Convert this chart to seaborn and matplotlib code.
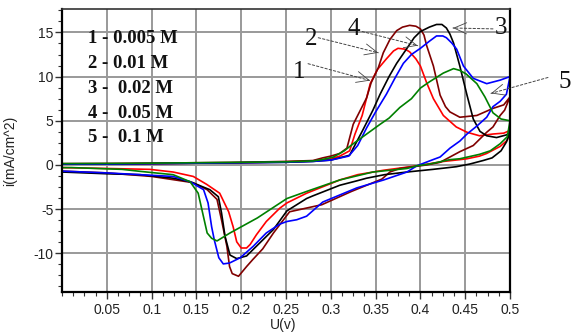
import matplotlib
matplotlib.use("Agg")
import matplotlib.pyplot as plt
import pandas as pd
import seaborn as sns
from matplotlib.ticker import MultipleLocator

# ---------------- data ----------------
# curve 1 : 0.005 M (red)
c1_fwd_U = [0, 0.05, 0.1, 0.15, 0.2, 0.25, 0.28, 0.3, 0.31, 0.321, 0.327, 0.335, 0.344, 0.352,
            0.362, 0.37, 0.375, 0.383, 0.388, 0.395, 0.4, 0.407, 0.4145, 0.4256, 0.44, 0.452,
            0.466, 0.481, 0.493, 0.5]
c1_fwd_i = [0.1, 0.12, 0.15, 0.2, 0.25, 0.35, 0.45, 0.7, 1.0, 1.6, 3.5, 5.6, 9.2, 10.8,
            12.0, 12.9, 13.2, 13.1, 12.8, 12.0, 11.2, 9.3, 7.5, 5.6, 4.3, 3.7,
            3.3, 3.5, 3.6, 3.9]
c1_rev_U = [0.497, 0.489, 0.474, 0.466, 0.452, 0.444, 0.426, 0.396, 0.359, 0.33, 0.31, 0.273,
            0.251, 0.243, 0.236, 0.228, 0.217, 0.21, 0.206, 0.2, 0.195, 0.191, 0.186, 0.176,
            0.1615, 0.1465, 0.124, 0.098, 0.05, 0]
c1_rev_i = [2.8, 2.1, 1.3, 1.0, 0.7, 0.6, 0.4, -0.1, -0.6, -1.1, -1.7, -3.2,
            -4.3, -4.9, -5.6, -6.4, -7.9, -9.0, -9.4, -9.4, -8.7, -7.0, -5.3, -3.2,
            -2.2, -1.3, -0.8, -0.5, -0.4, -0.3]

# curve 2 : 0.01 M (dark red)
c2_fwd_U = [0, 0.05, 0.1, 0.15, 0.2, 0.25, 0.28, 0.291, 0.3, 0.31, 0.318, 0.325, 0.34, 0.345,
            0.353, 0.3586, 0.366, 0.3735, 0.38, 0.388, 0.395, 0.4, 0.404, 0.407, 0.4145, 0.422,
            0.428, 0.433, 0.444, 0.463, 0.481, 0.493, 0.5]
c2_fwd_i = [0.15, 0.17, 0.2, 0.25, 0.3, 0.4, 0.5, 0.8, 1.0, 1.3, 1.9, 4.6, 7.6, 9.3,
            11.0, 12.7, 14.2, 15.2, 15.6, 15.8, 15.7, 15.4, 14.7, 13.5, 11.2, 7.9,
            6.6, 6.0, 5.4, 5.6, 6.4, 6.8, 7.7]
c2_rev_U = [0.494, 0.489, 0.481, 0.474, 0.466, 0.459, 0.444, 0.433, 0.422, 0.407, 0.377, 0.366,
            0.357, 0.323, 0.29, 0.254, 0.236, 0.224, 0.213, 0.206, 0.197, 0.19, 0.187, 0.184,
            0.178, 0.173, 0.162, 0.146, 0.1, 0.05, 0]
c2_rev_i = [6.2, 5.6, 4.3, 3.7, 2.9, 2.2, 1.5, 0.9, 0.3, 0.0, -0.4, -0.8,
            -1.6, -3.0, -4.5, -5.3, -7.7, -9.5, -10.7, -11.5, -12.6, -12.3, -11.5, -9.2,
            -6.2, -3.9, -2.8, -2.0, -1.3, -0.9, -0.7]

# curve 3 : 0.02 M (black)
c3_fwd_U = [0, 0.05, 0.1, 0.15, 0.2, 0.25, 0.28, 0.3, 0.321, 0.336, 0.347, 0.355, 0.365, 0.3735,
            0.385, 0.393, 0.4, 0.41, 0.418, 0.424, 0.429, 0.433, 0.437, 0.444, 0.452, 0.459,
            0.4665, 0.474, 0.485, 0.496, 0.5]
c3_fwd_i = [0.1, 0.1, 0.15, 0.2, 0.25, 0.3, 0.4, 0.55, 1.1, 4.0, 6.2, 8.0, 10.0, 11.5,
            13.2, 14.4, 15.1, 15.6, 15.9, 15.9, 15.5, 14.8, 13.8, 11.2, 7.9, 5.2,
            3.8, 3.3, 3.1, 3.4, 3.7]
c3_rev_U = [0.496, 0.49, 0.48, 0.47, 0.455, 0.44, 0.414, 0.385, 0.36, 0.34, 0.329, 0.31,
            0.28, 0.273, 0.251, 0.236, 0.217, 0.206, 0.195, 0.1875, 0.182, 0.178, 0.1745,
            0.165, 0.143, 0.124, 0.087, 0.05, 0]
c3_rev_i = [2.6, 1.6, 0.8, 0.5, 0.1, -0.2, -0.5, -0.8, -1.1, -1.5, -1.8, -2.3,
            -3.5, -3.8, -5.2, -7.3, -9.2, -10.3, -10.6, -10.2, -8.1, -5.4, -3.6,
            -2.8, -1.9, -1.5, -1.1, -1.0, -0.8]

# curve 4 : 0.05 M (blue)
c4_fwd_U = [0, 0.05, 0.1, 0.15, 0.2, 0.25, 0.28, 0.3, 0.32, 0.33, 0.34, 0.35, 0.362, 0.372,
            0.381, 0.39, 0.4, 0.41, 0.418, 0.425, 0.429, 0.435, 0.4405, 0.448, 0.459, 0.474,
            0.489, 0.5]
c4_fwd_i = [0.1, 0.1, 0.15, 0.2, 0.25, 0.3, 0.4, 0.55, 1.0, 2.2, 4.2, 6.0, 8.0, 9.9,
            11.5, 12.5, 13.2, 14.0, 14.6, 14.6, 14.4, 13.8, 13.1, 11.2, 9.8, 9.2,
            9.6, 10.0]
c4_rev_U = [0.496, 0.489, 0.481, 0.474, 0.463, 0.452, 0.444, 0.433, 0.422, 0.414, 0.396, 0.385,
            0.359, 0.329, 0.31, 0.291, 0.273, 0.262, 0.251, 0.243, 0.228, 0.2135, 0.199,
            0.187, 0.18, 0.175, 0.17, 0.167, 0.163, 0.158, 0.143, 0.124, 0.087, 0.05, 0]
c4_rev_i = [8.0, 7.2, 6.6, 5.4, 4.4, 3.5, 2.7, 1.9, 0.9, 0.6, -0.1, -0.8,
            -1.7, -2.6, -3.4, -4.2, -5.8, -6.2, -6.4, -6.7, -7.7, -9.2, -10.5,
            -11.1, -11.2, -10.5, -8.5, -7.0, -4.3, -2.8, -1.9, -1.3, -1.1, -0.9, -0.7]

# curve 5 : 0.1 M (green)
c5_fwd_U = [0, 0.05, 0.1, 0.15, 0.2, 0.25, 0.28, 0.29, 0.303, 0.315, 0.325, 0.34, 0.355, 0.365,
            0.377, 0.39, 0.4, 0.41, 0.4256, 0.437, 0.444, 0.451, 0.463, 0.472, 0.481, 0.49, 0.5]
c5_fwd_i = [0.15, 0.17, 0.2, 0.25, 0.3, 0.35, 0.45, 0.6, 0.9, 1.6, 2.4, 3.5, 4.6, 5.3,
            6.5, 7.5, 8.7, 9.4, 10.4, 10.9, 10.7, 10.3, 9.2, 7.7, 5.9, 5.2, 5.0]
c5_rev_U = [0.497, 0.489, 0.478, 0.466, 0.444, 0.433, 0.41, 0.396, 0.385, 0.347, 0.31, 0.273,
            0.251, 0.236, 0.218, 0.1875, 0.173, 0.167, 0.162, 0.156, 0.152, 0.143, 0.124,
            0.104, 0.085, 0.067, 0.011, 0]
c5_rev_i = [3.2, 2.4, 1.6, 1.2, 0.7, 0.6, 0.1, -0.1, -0.4, -0.8, -1.7, -3.0,
            -3.8, -4.8, -6.0, -7.7, -8.6, -8.3, -7.7, -5.0, -3.2, -1.9, -1.1,
            -0.9, -0.7, -0.5, -0.3, -0.3]

curve_names = ["1", "2", "3", "4", "5"]
curve_colors = ["#ff0000", "#800000", "#000000", "#0000ff", "#008000"]

legend_lines = ["1 - 0.005 M", "2 - 0.01 M", "3 -  0.02 M", "4 -  0.05 M", "5 -  0.1 M"]

x_ticks = [0.05, 0.1, 0.15, 0.2, 0.25, 0.3, 0.35, 0.4, 0.45, 0.5]
x_tick_labels = ["0.05", "0.1", "0.15", "0.2", "0.25", "0.3", "0.35", "0.4", "0.45", "0.5"]
y_ticks = [-10, -5, 0, 5, 10, 15]
y_tick_labels = ["-10", "-5", "0", "5", "10", "15"]

# annotation: label, text position, dashed-line start, arrow tip (data coords)
annotations = [
    ("1", (0.2645, 10.56), (0.2746, 11.46), (0.3438, 9.55)),
    ("2", (0.278, 14.3), (0.286, 14.4), (0.353, 12.7)),
    ("4", (0.326, 15.4), (0.335, 15.1), (0.397, 13.5)),
    ("3", (0.490, 15.5), (0.481, 15.4), (0.4364, 15.5)),
    ("5", (0.5614, 9.44), (0.5424, 9.9), (0.4788, 8.1)),
]

# ---------------- build table ----------------
curves = [
    (c1_fwd_U + c1_rev_U, c1_fwd_i + c1_rev_i),
    (c2_fwd_U + c2_rev_U, c2_fwd_i + c2_rev_i),
    (c3_fwd_U + c3_rev_U, c3_fwd_i + c3_rev_i),
    (c4_fwd_U + c4_rev_U, c4_fwd_i + c4_rev_i),
    (c5_fwd_U + c5_rev_U, c5_fwd_i + c5_rev_i),
]
frames = []
for name, (U, I) in zip(curve_names, curves):
    frames.append(pd.DataFrame({"U": U, "i": I, "curve": name}))
df = pd.concat(frames, ignore_index=True)

# ---------------- figure ----------------
sns.set_theme(style="whitegrid", rc={"axes.edgecolor": "black", "grid.color": "#999999",
                                      "grid.linewidth": 1.2})
plt.rcParams["font.family"] = ["Liberation Sans", "DejaVu Sans"]
plt.rcParams["axes.unicode_minus"] = False

fig, ax = plt.subplots(figsize=(5.75, 3.36), dpi=100)
fig.subplots_adjust(left=62 / 575, right=510 / 575, bottom=1 - 292 / 336, top=1 - 9 / 336)

ylim = (-14.38, 17.65)
xlim = (0, 0.5)
ax.vlines(x_ticks, ylim[0], ylim[1], colors="#999999", linewidth=1.2, zorder=1)
ax.hlines(y_ticks, xlim[0], xlim[1], colors="#999999", linewidth=1.2, zorder=1)

sns.lineplot(data=df, x="U", y="i", hue="curve", hue_order=curve_names,
             palette=dict(zip(curve_names, curve_colors)), sort=False,
             estimator=None, legend=False, linewidth=1.2, ax=ax, zorder=3)

ax.set_xlim(*xlim)
ax.set_ylim(*ylim)

ax.set_xticks(x_ticks, x_tick_labels)
ax.set_yticks(y_ticks, y_tick_labels)
ax.xaxis.set_minor_locator(MultipleLocator(0.0125))
ax.yaxis.set_minor_locator(MultipleLocator(1.25))

ax.tick_params(which="both", bottom=True, left=True, top=False, right=False,
               direction="out", color="#333333")
ax.tick_params(which="major", length=5, width=1.0, labelsize=10, labelcolor="#222222")
ax.tick_params(which="minor", length=3, width=0.8)
ax.tick_params(axis="y", which="major", pad=1)
ax.tick_params(axis="x", which="major", pad=3)
ax.grid(True, which="major", color="#999999", linewidth=1.2)

for side in ["left", "bottom", "right"]:
    ax.spines[side].set_visible(True)
    ax.spines[side].set_color("black")
    ax.spines[side].set_linewidth(1.6)
    ax.spines[side].set_zorder(4)
ax.spines["top"].set_visible(True)
ax.spines["top"].set_color("#333333")
ax.spines["top"].set_linewidth(1.2)
ax.spines["top"].set_zorder(4)

ax.set_xlabel("U(v)", fontsize=10, color="#222222")
ax.xaxis.set_label_coords(0.493, -0.093)
ax.set_ylabel("i(mA/cm^2)", fontsize=10, color="#222222")
ax.yaxis.set_label_coords(-0.1, 0.5)

legend_y = [14.27, 11.46, 8.65, 5.84, 3.15]
for txt, yy in zip(legend_lines, legend_y):
    ax.text(0.029, yy, txt, fontfamily="Liberation Serif", fontweight="bold",
            fontsize=13.5, va="center", ha="left", color="#111111", zorder=5)

for lab, tpos, start, tip in annotations:
    ax.annotate("", xy=tip, xytext=start,
                arrowprops=dict(arrowstyle="-", linestyle=(0, (2.5, 2)), lw=0.7,
                                color="#444444", shrinkA=0, shrinkB=0),
                annotation_clip=False, zorder=5)
    near = (tip[0] + 0.03 * (start[0] - tip[0]), tip[1] + 0.03 * (start[1] - tip[1]))
    ax.annotate("", xy=tip, xytext=near,
                arrowprops=dict(arrowstyle="->,head_length=0.9,head_width=0.4", lw=0.6,
                                color="#444444", shrinkA=0, shrinkB=0, mutation_scale=10),
                annotation_clip=False, zorder=5)
    ax.text(tpos[0], tpos[1], lab, fontfamily="Liberation Serif", fontsize=18,
            ha="center", va="center", color="#111111", clip_on=False, zorder=5)

fig.savefig("out.png", dpi=100)
